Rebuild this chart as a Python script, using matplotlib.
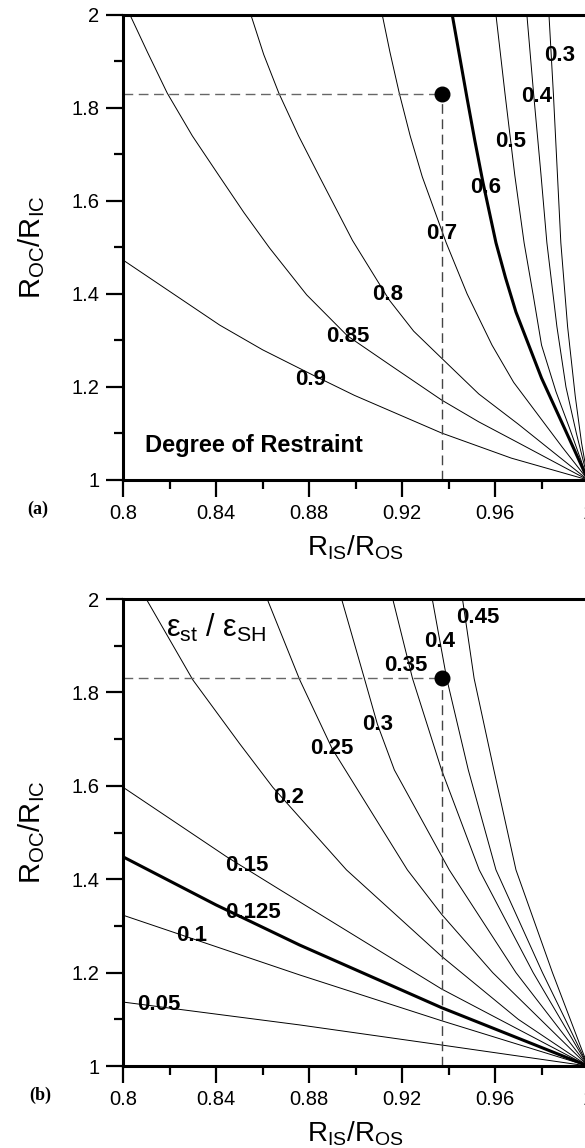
import matplotlib.pyplot as plt
from matplotlib.ticker import MultipleLocator, FuncFormatter

plt.rcParams['font.family'] = ['Liberation Sans', 'DejaVu Sans']
plt.rcParams['mathtext.fontset'] = 'custom'
plt.rcParams['mathtext.rm'] = 'Liberation Sans'
plt.rcParams['mathtext.it'] = 'Liberation Sans:italic'

# (a) degree of restraint curves
dor_labels = ['0.9', '0.85', '0.8', '0.7', '0.6', '0.5', '0.4', '0.3']
dor_x = [
    [0.8, 0.8416, 0.860, 0.8815, 0.8995, 0.937, 0.967, 1.0],
    [0.803, 0.8105, 0.819, 0.8298, 0.8416, 0.852, 0.863, 0.879, 0.8965, 0.9155,
     0.937, 0.953, 0.97, 1.0],
    [0.855, 0.8605, 0.867, 0.8755, 0.8845, 0.8987, 0.9145, 0.925, 0.937, 0.953,
     0.97, 1.0],
    [0.9115, 0.9148, 0.9188, 0.9235, 0.9287, 0.939, 0.948, 0.9587, 0.968, 0.9776,
     0.989, 1.0],
    [0.9416, 0.9448, 0.948, 0.9513, 0.9548, 0.9604, 0.9645, 0.969, 0.980, 0.9898, 1.0],
    [0.9604, 0.9643, 0.9685, 0.9725, 0.9765, 0.980, 0.9862, 0.992, 1.0],
    [0.9737, 0.9766, 0.9797, 0.9823, 0.9866, 0.9905, 0.995, 1.0],
    [0.9832, 0.9851, 0.9868, 0.9883, 0.9912, 0.9945, 0.9972, 1.0],
]
dor_y = [
    [1.473, 1.333, 1.280, 1.226, 1.182, 1.101, 1.047, 1.0],
    [2.0, 1.92, 1.832, 1.74, 1.652, 1.575, 1.499, 1.398, 1.310, 1.245,
     1.172, 1.125, 1.08, 1.0],
    [2.0, 1.915, 1.832, 1.74, 1.652, 1.515, 1.387, 1.32, 1.262, 1.185,
     1.12, 1.0],
    [2.0, 1.92, 1.832, 1.74, 1.652, 1.510, 1.40, 1.290, 1.21, 1.146,
     1.07, 1.0],
    [2.0, 1.91, 1.82, 1.73, 1.64, 1.51, 1.435, 1.361, 1.219, 1.112, 1.0],
    [2.0, 1.83, 1.655, 1.51, 1.395, 1.29, 1.19, 1.112, 1.0],
    [2.0, 1.83, 1.66, 1.51, 1.33, 1.20, 1.10, 1.0],
    [2.0, 1.83, 1.66, 1.51, 1.33, 1.18, 1.08, 1.0],
]
dor_lab_x = [0.8807, 0.8965, 0.9137, 0.9369, 0.956, 0.9665, 0.978, 0.9879]
dor_lab_y = [1.215, 1.308, 1.398, 1.529, 1.628, 1.727, 1.824, 1.912]

# (b) strain ratio curves
eps_labels = ['0.05', '0.1', '0.125', '0.15', '0.2', '0.25', '0.3', '0.35', '0.4', '0.45']
eps_x = [
    [0.8, 0.876, 0.937, 1.0],
    [0.8, 0.876, 0.937, 1.0],
    [0.8, 0.84, 0.876, 0.937, 1.0],
    [0.8, 0.8446, 0.867, 0.937, 1.0],
    [0.81, 0.830, 0.8502, 0.8644, 0.8961, 0.937, 0.97, 1.0],
    [0.862, 0.876, 0.890, 0.9223, 0.937, 0.959, 1.0],
    [0.894, 0.9038, 0.9094, 0.9167, 0.9403, 0.969, 1.0],
    [0.916, 0.9245, 0.937, 0.9532, 0.9764, 1.0],
    [0.933, 0.9392, 0.9485, 0.9604, 0.9804, 1.0],
    [0.946, 0.951, 0.9595, 0.969, 0.9847, 1.0],
]
eps_y = [
    [1.137, 1.088, 1.045, 1.0],
    [1.323, 1.195, 1.097, 1.0],
    [1.448, 1.345, 1.259, 1.125, 1.0],
    [1.597, 1.448, 1.379, 1.165, 1.0],
    [2.0, 1.827, 1.690, 1.597, 1.420, 1.235, 1.10, 1.0],
    [2.0, 1.827, 1.679, 1.420, 1.325, 1.20, 1.0],
    [2.0, 1.83, 1.732, 1.634, 1.420, 1.20, 1.0],
    [2.0, 1.83, 1.634, 1.420, 1.20, 1.0],
    [2.0, 1.83, 1.634, 1.420, 1.20, 1.0],
    [2.0, 1.83, 1.634, 1.420, 1.20, 1.0],
]
eps_lab_x = [0.8154, 0.8296, 0.8558, 0.8532, 0.8712, 0.890, 0.9094, 0.9218, 0.936, 0.9527]
eps_lab_y = [1.131, 1.280, 1.328, 1.430, 1.576, 1.679, 1.732, 1.857, 1.91, 1.961]

point_x = 0.9373
point_y = 1.83


def fmt(v, pos):
    return f'{v:.2f}'.rstrip('0').rstrip('.')


def style_axes(ax):
    ax.set_xlim(0.8, 1.0)
    ax.set_ylim(1.0, 2.0)
    ax.xaxis.set_major_locator(MultipleLocator(0.04))
    ax.xaxis.set_minor_locator(MultipleLocator(0.02))
    ax.yaxis.set_major_locator(MultipleLocator(0.2))
    ax.yaxis.set_minor_locator(MultipleLocator(0.1))
    ax.xaxis.set_major_formatter(FuncFormatter(fmt))
    ax.yaxis.set_major_formatter(FuncFormatter(fmt))
    ax.tick_params(which='major', direction='out', length=12, width=1.6,
                   labelsize=14.5, pad=5)
    ax.tick_params(which='minor', direction='out', length=6.5, width=1.6)
    ax.tick_params(top=False, right=False)
    for s in ['left', 'bottom', 'top']:
        ax.spines[s].set_linewidth(2.2)
    ax.spines['right'].set_visible(False)
    ax.set_xlabel(r'R$_{\mathrm{IS}}$/R$_{\mathrm{OS}}$', fontsize=20)
    ax.set_ylabel(r'R$_{\mathrm{OC}}$/R$_{\mathrm{IC}}$', fontsize=21)
    ax.yaxis.set_label_coords(-0.163, 0.5)
    ax.xaxis.set_label_coords(0.5, -0.115)
    # reference point with dashed guides
    ax.plot([0.8, point_x], [point_y, point_y], ls=(0, (7, 4)), color='#666666', lw=1)
    ax.plot([point_x, point_x], [1.0, point_y], ls=(0, (7, 4)), color='#444444', lw=1)
    ax.plot(point_x, point_y, 'o', color='black', ms=10.5)


fig = plt.figure(figsize=(5.85, 11.48), dpi=100)
ax1 = fig.add_axes([0.2103, 0.5819, 0.7949, 0.4051])
ax2 = fig.add_axes([0.2103, 0.0714, 0.7949, 0.4068])

for xs, ys, lab in zip(dor_x, dor_y, dor_labels):
    ax1.plot(xs, ys, color='black', lw=2.2 if lab == '0.6' else 0.7)
for xs, ys, lab in zip(eps_x, eps_y, eps_labels):
    ax2.plot(xs, ys, color='black', lw=2.2 if lab == '0.125' else 0.7)

style_axes(ax1)
style_axes(ax2)

for lx, ly, lab in zip(dor_lab_x, dor_lab_y, dor_labels):
    ax1.text(lx, ly, lab, ha='center', va='center', fontsize=16, fontweight='bold')
for lx, ly, lab in zip(eps_lab_x, eps_lab_y, eps_labels):
    ax2.text(lx, ly, lab, ha='center', va='center', fontsize=16, fontweight='bold')

ax1.text(0.8094, 1.075, 'Degree of Restraint', ha='left', va='center',
         fontsize=17, fontweight='bold')
ax2.text(0.8185, 1.938, r'$\mathrm{ε}_{\mathrm{st}}$ / $\mathrm{ε}_{\mathrm{SH}}$',
         ha='left', va='center', fontsize=22)

fig.text(0.065, 1 - 509 / 1148, '(a)', fontsize=13, fontweight='bold',
         family='Liberation Serif', ha='center', va='center')
fig.text(0.068, 1 - 1095 / 1148, '(b)', fontsize=13, fontweight='bold',
         family='Liberation Serif', ha='center', va='center')

fig.savefig('out.png', dpi=100)
